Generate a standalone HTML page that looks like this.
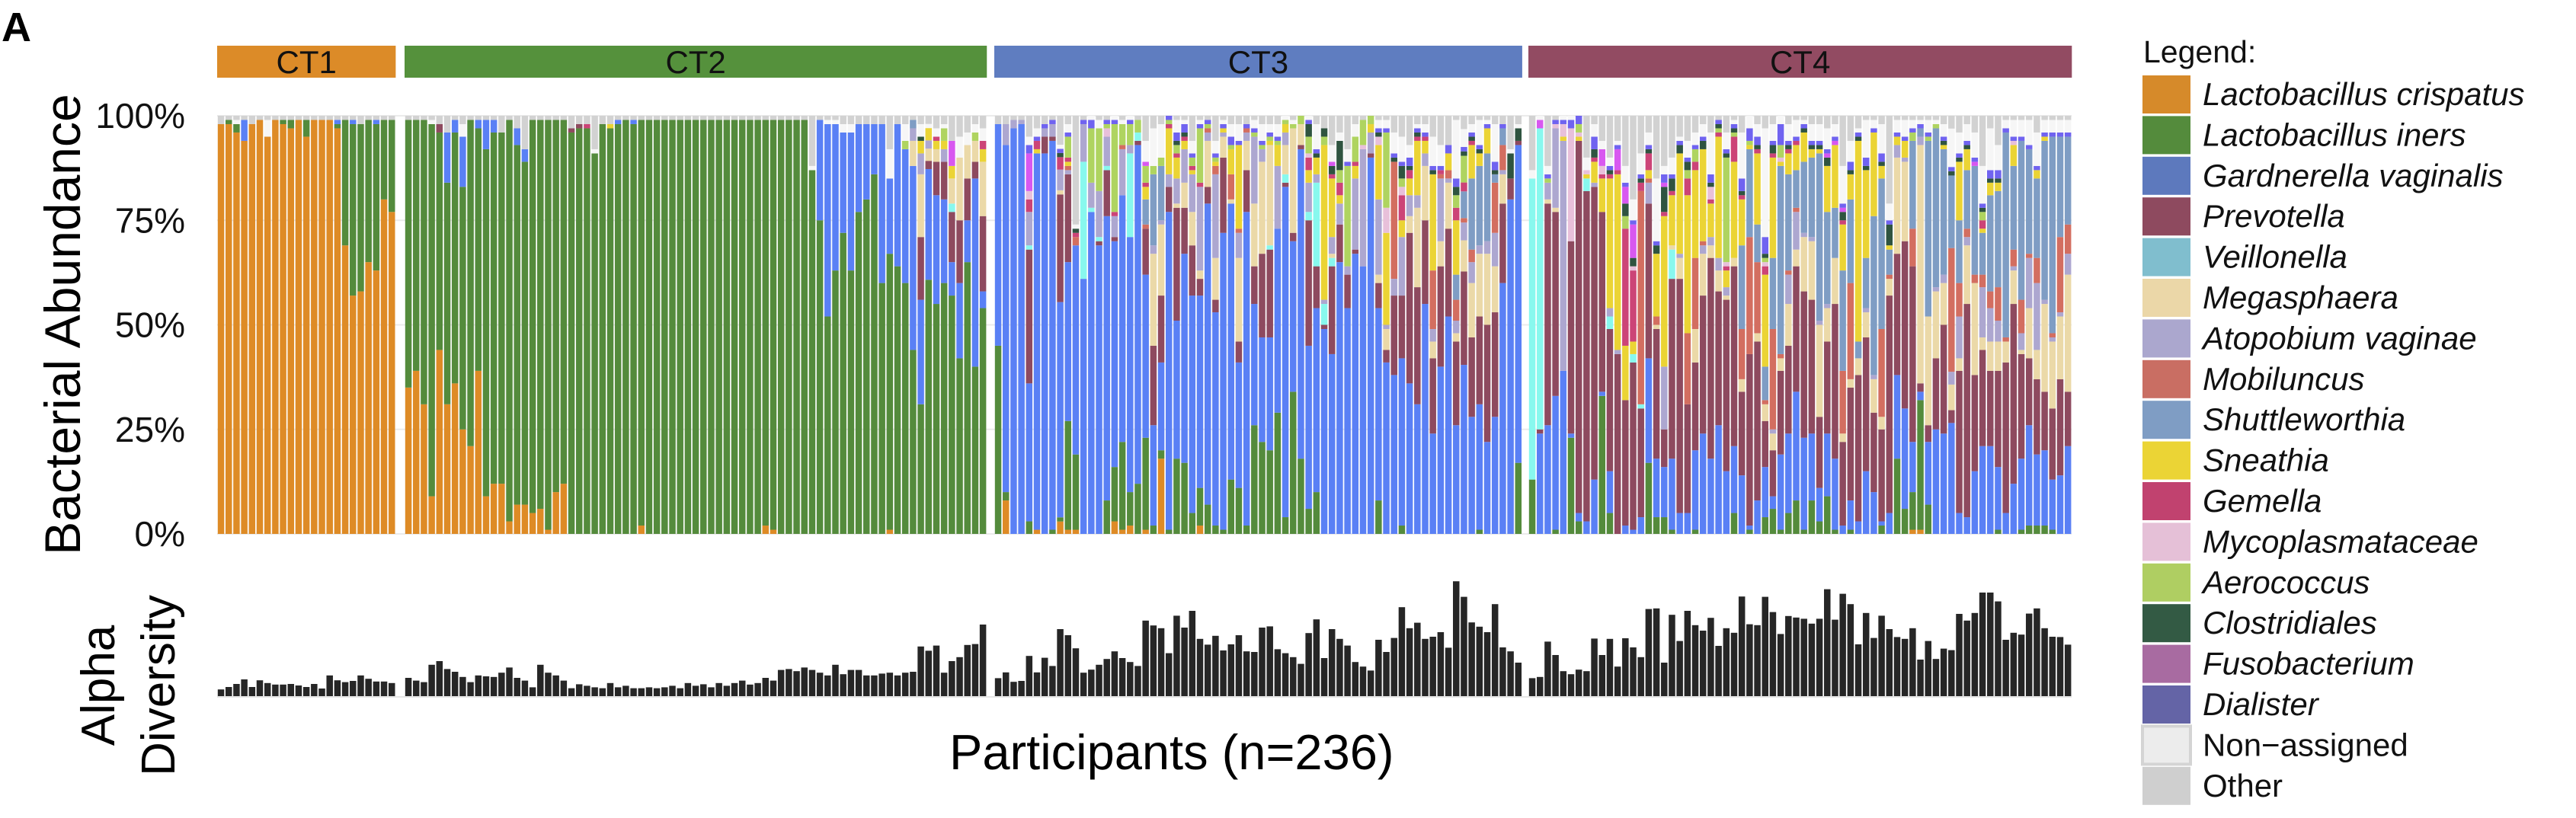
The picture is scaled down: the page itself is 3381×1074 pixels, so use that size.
<!DOCTYPE html>
<html><head><meta charset="utf-8">
<style>
html,body{margin:0;padding:0;background:#fff;}
svg{display:block;font-family:"Liberation Sans",sans-serif;}
</style></head>
<body>
<svg id="fig" width="3381" height="1074" viewBox="0 0 3381 1074" xmlns="http://www.w3.org/2000/svg">
<text x="2" y="54" font-size="54" font-weight="bold">A</text>
<g id="strips"></g>
<g id="grid"></g>
<g id="stack"></g>
<g id="alpha"></g>
<g id="yticks"></g>
<text transform="translate(105,426) rotate(-90)" text-anchor="middle" font-size="66">Bacterial Abundance</text>
<text transform="translate(150,900) rotate(-90)" text-anchor="middle" font-size="62">Alpha</text>
<text transform="translate(229,900) rotate(-90)" text-anchor="middle" font-size="62">Diversity</text>
<text x="1246" y="1010" font-size="65">Participants (n=236)</text>
<g id="legend"></g>
</svg>
<script>
const taxaCodes = ["c","i","g","p","v","m","a","b","s","n","e","y","r","l","f","d","x","o"];
const taxaNames = ["Lactobacillus crispatus","Lactobacillus iners","Gardnerella vaginalis","Prevotella","Veillonella","Megasphaera","Atopobium vaginae","Mobiluncus","Shuttleworthia","Sneathia","Gemella","Mycoplasmataceae","Aerococcus","Clostridiales","Fusobacterium","Dialister","Non\u2212assigned","Other"];
const legendColors = ["#D68A2A","#548B3C","#5D79BD","#8E4A5F","#80BECE","#EBD7A8","#ABA7CE","#C96E63","#7F9DC4","#EBD435","#C1426F","#E5C0D7","#AFCE62","#335A44","#A86BA1","#6464A6","#ECECEC","#CFCFCF"];
const barColors = ["#DE8B26","#548B3C","#5A80F5","#8E4A5F","#88F8EE","#EBD9A8","#ADA7D0","#D36E60","#7F9DC4","#EBD435","#CC4477","#E8C0DA","#AFD460","#2F5440","#D858F0","#7063F0","#F6F6F6","#D2D2D2"];
const clusters = ["CT1","CT2","CT3","CT4"];
const clusterColors = ["#DC8B28","#55913C","#5F7DC0","#924B62"];
const ct1Bars = ["c98 o2","c98 i1 o1","c96 i2 x1 o1","c94 g5 o1","c98 o2","c99 o1","c95 x4 o1","c99 o1","c98 i1 o1","c97 i2 o1","c99 o1","c95 i4 o1","c99 o1","c99 o1","c99 o1","c97 g1 i1 o1","c69 i30 o1","c57 i41 g1 o1","c58 i40 o2","c65 i34 o1","c63 i35 g1 o1","c80 i19 o1","c77 i22 o1"];
const ct2Bars = ["c35 i64 o1","c39 i60 o1","c31 i68 o1","c9 i89 x1 o1","c44 i52 p2 o2","c31 i53 g12 o4","c36 i60 g3 o1","c25 i58 g12 x3 o2","c21 i78 o1","c39 i58 g2 o1","c9 i83 g7 o1","c12 i84 g3 o1","c12 i84 o4","c3 i96 o1","c7 i86 g4 o3","c7 i82 g3 o8","c5 i94 o1","c6 i93 o1","c1 i98 o1","c10 i89 o1","c12 i87 o1","i96 p1 o3","i97 p1 o2","i97 e1 o2","i91 x1 o8","i98 o2","i97 n1 o2","i98 g1 o1","i99 o1","i98 g1 o1","c2 i97 o1","i99 o1","i99 o1","i99 o1","i99 o1","i99 o1","i99 o1","i99 o1","i99 o1","i99 o1","i99 o1","i99 o1","i99 o1","i99 o1","i99 o1","i99 o1","c2 i97 o1","c1 i98 o1","i99 o1","i99 o1","i99 o1","i99 o1","i87 x1 o12","i75 g24 o1","i52 g46 x1 o1","i63 g35 x1 o1","i72 g24 x2 o2","i63 g33 x2 o2","i77 g21 o2","i80 g18 o2","i86 g12 o2","i60 g38 o2","c1 i66 g18 x7 o8","i64 g34 o2","i60 g32 r2 x4 o2","i44 g44 m6 a3 s2 o1","i31 g25 p15 m15 a5 n3 l1 x3 o2","i62 g27 p2 m3 a2 n3 x1 o2","i55 g26 p8 m3 n2 e1 x2 o3","i60 g20 p9 a3 n2 r3 x1 o2","i57 g8 p12 v2 m6 f6 n3 o6","i42 g18 p15 m15 x5 o5","i65 g10 p10 m8 x3 o4","i40 g45 p4 m5 r2 x2 o2","i54 g4 p18 m13 n3 e2 x3 o3"];
const ct3Bars = ["i45 g53 o2","c8 i2 g83 a5 o2","g97 a2 o1","g98 a1 o1","i3 g33 p32 v1 a8 e3 y2 f9 d2 x2 o5","c1 g90 n1 e2 d1 x2 o3","g91 p4 a2 d1 o2","i1 g93 p1 a3 d1 o1","c3 i1 g52 p26 m1 a5 e3 l1 d1 x1 o7","c1 i26 g38 p21 a1 b1 n1 e1 r5 d1 x2 o2","c1 i18 g50 b2 e1 l1 x1 o26","g61 v28 a9 d1 o1","g77 v1 a6 r13 d2 x1","g69 p1 v1 a11 r15 x2 o1","i8 g68 p11 v1 a7 y2 r1 d1 o1","c3 i13 g54 p1 a5 e1 r21 d1 x1","c1 i21 g59 a11 b1 r5 x1 o1","c2 i8 g61 v20 a2 r5 d1 x1","i12 g81 p1 v2 r3 o1","c1 i22 g39 p11 b1 s6 n3 e1 r4 f1 x5 o6","i2 g24 p19 m22 a2 s17 r2 x9 o3","c18 i2 g21 p16 m17 a1 s13 r2 x8 o2","i1 g76 p6 a3 n11 e1 r1 d1","i18 g33 p27 m1 a6 n5 e1 r2 l1 d2 x3 o1","i17 g50 p11 m6 a8 n2 e1 l1 d2 x1 o1","i5 g52 p12 m8 a9 n1 e1 r2 d1 x3 o6","c2 i9 g46 p4 m2 a20 e1 r13 d1 x1 o1","i7 g72 p4 m11 a2 b1 r1 d1 o1","i2 g51 p3 m10 a20 b2 n1 r1 d1 x3 o6","i1 g71 p18 m5 a1 n1 d1 o1 x1","i13 g66 m1 b6 n6 r1 d2 x3 o2","i11 g30 p5 m20 a6 b1 n20 d1 x4 o2","i2 g75 p10 m7 a2 b1 d1 o2","i26 g29 p9 m15 a16 r1 d1 x2 o1","i22 g25 p20 m22 a3 r1 d1 x4 o2","i20 g27 p21 v1 m24 n1 r1 d1 x2 o2","i29 g44 a15 n5 r1 d1 x3 o2","i4 g79 p1 v2 m7 a3 n2 r1 x1","i34 g36 p2 m25 r1 x1 o1","i18 g74 p1 m5 r2","i6 g39 p30 v2 a7 n3 e3 y1 r4 l3 d1 x1","i10 g44 p10 v20 a2 n4 l1 d1 x6 o2","g49 p1 v5 a1 n37 r2 l2 o3","g43 p21 v2 m1 a4 n14 e1 l2 f1 x4 o7","g65 p9 a5 n2 e3 r3 l7 x2 o4","g54 p8 a2 r24 d1 x3 o8","g67 p1 a17 e1 n3 r6 x3 o2","g64 a28 y1 r6 o1","g90 p1 a5 n2 r2","i8 g46 p6 m2 a18 n13 y2 l1 d1 x2 o1","g41 p3 m5 a1 n22 y6 r18 d1 x2 o1","g38 p19 a4 b28 l1 d1 x5 o4","i2 g40 p15 a14 n4 e6 y2 r2 l3 d1 x6 o5","g36 p36 m4 a5 n4 e2 l1 d2 x3 o7","g31 p28 m19 a3 n13 e1 l1 d1 x1 o2","g55 p20 m13 a3 n3 e1 d1 x2 o2","g24 p18 m4 a3 b14 n23 l1 d1 x7 o5","g40 p24 m6 a15 b1 e1 d1 x5 o7","g52 p21 m11 a1 b2 n4 d2 o7","g26 p20 m2 a3 b5 s6 n13 e3 r3 l2 d2 x14 o1","g38 p21 m7 a4 b1 s6 e2 r6 l1 d1 x4 o3","g28 p19 m13 a5 b3 s17 n8 e1 l1 d1 x2 o2","i1 g30 p21 m15 a2 s19 n3 l1 d1 x6 o1","g22 p28 m17 a3 s21 n6 d1 x1 o1","g28 p25 m11 a8 b12 s2 l1 d2 x9 o2","g60 p19 m7 a1 b6 s4 d1 o2","g80 p5 l6 x1 o8","i17 g76 p1 l3 x1 o2"];
const ct4Bars = ["i13 v72 x2 o13","g24 p1 v72 f2 x1","g26 p53 m1 a4 r1 d1 x2 o12","i1 g32 p44 m1 a19 y1 d1 o1","g39 a55 n1 y3 d1 x1","i23 g1 p46 y27 d2 x1","i3 g2 p89 n1 y1 r2 d2","g3 p79 v3 n1 y1 x3 o10","g13 p70 a1 n5 e1 l2 d3 x3 o2","i33 g1 p43 n8 e1 y2 f4 x2 o6","i5 g10 p34 v3 a2 n31 e1 l1 d1 x2 o10","p43 a1 n42 e1 f5 d1 x1 o6","g2 p30 n13 e28 r3 l3 f4 d1 x4 o12","g1 p40 v2 n3 e17 y1 l2 f8 d1 x5 o20","g4 p26 v1 b51 e2 l1 d1 x5 o9","i17 g25 p37 a5 b1 n2 e4 l1 d1 x3 o4","i4 g14 p31 m1 b2 n15 l2 d1 x15 o15","i4 g12 p9 a15 n36 e1 l6 f1 d2 x2 o12","i1 g17 p43 v7 m1 n12 e1 l3 d1 x4 o10","g5 p56 m5 a1 n24 l2 d1 x1 o5","g5 p26 b17 n33 e4 r2 l2 d1 x4 o6","i1 g19 p21 m8 b17 n21 e2 r3 d1 x3 o4","g24 p33 m10 a2 b1 n22 l2 d1 x3 o2","g18 p48 m3 a2 n8 e1 y3 l1 d2 x10 o4","g26 p32 m5 a3 n29 e1 r1 l1 d1 o1","g15 p41 m1 a2 n4 e1 y1 r25 l1 d1 x4 o4","i5 g16 p43 m2 n23 e6 r1 l1 d1 x1 o1","g14 p20 m3 b12 s20 n11 e1 l1 d3 x11 o4","i1 g1 p41 b28 s21 n1 r1 d3 x3","g8 p38 m2 b17 s9 n17 e1 l1 d2 x3 o2","i4 g12 p11 m4 b1 s8 n22 e2 y1 r1 l1 d4 x26 o3","i6 g3 p11 m4 a1 b24 s17 n24 e1 l2 d1 x4 o2","i1 g18 p20 m3 b1 s45 n1 y1 r3 d5 x2","i5 g19 p21 m10 a7 b1 s23 n5 e1 l1 d1 x4 o2","i8 g26 p30 m4 a9 b1 s9 n6 e1 d1 x4 o1","i1 g22 p35 m13 a1 s17 n7 l1 d1 x1 o1","i8 g16 p32 m14 a1 s19 n2 l1 d1 x4 o2","i3 g8 p17 m22 a1 s40 n1 l1 d1 x4 o2","i9 g15 p22 m8 a1 s22 n11 l2 f1 d1 x5 o3","i1 g17 p37 m11 s12 n15 f1 d1 x3 o2","g2 p20 m2 b15 s24 n11 e1 l2 f1 d1 x9 o12","i1 g7 p27 m2 b23 s20 n6 l1 d2 x5 o6","g3 p35 m4 s4 n48 l1 d1 x1 o3","g15 p32 m6 a1 s12 n21 l1 d2 x9 o1","g10 p19 m8 a1 s38 n20 d1 x2 o1","i2 g1 p22 m3 b21 s36 n3 l1 d2 x7 o2","g5 p52 m4 b1 s6 n1 l5 d1 x4 o21","i18 g20 p29 m23 a3 n2 d1 x3 o1","i6 g24 p40 m19 a1 n4 d1 x4 o1","c1 i9 g12 p42 b9 s21 r2 d1 x2 o1","c1 i31 g2 p2 m57 a2 s2 d1 x1 o1","i7 g15 p4 m26 s42 r1 d1 x3 o1","g25 p17 m16 a1 s38 r1 x1 o1","g24 p26 m10 a2 s30 n1 l1 d1 x3 o2","g26 p3 m6 a3 b29 s17 l1 d1 x9 o3","g5 p34 m3 a10 b8 s15 n14 l1 d1 x5 o4","g4 p51 m14 a2 b2 s14 n5 l1 d1 x4 o2","g15 p23 m22 b2 s26 f1 d1 x6 o4","g21 p23 m3 a12 b3 s10 n1 e2 r2 l1 d1 x9 o12","g21 p18 m7 a8 b4 s23 n3 l1 d2 x10 o3","i1 g15 p23 m7 a5 b8 s23 n2 l1 d2 x6 o7","g5 p36 m5 b1 s49 d1 x2 o1","g12 p43 m8 a1 b4 s20 n5 y1 d1 x4 o1","i1 g17 p25 m1 a4 b8 s38 d1 x4 o1","i2 g24 p16 m12 a12 b1 s25 d1 x6 o1","i2 g17 p18 m7 a16 b6 s19 n2 d1 x8 o4","i2 g18 p14 m21 a1 s38 n1 d1 x3 o1","i1 g12 p17 m16 a1 b1 s47 d1 x3 o1","g14 p23 m15 a1 b18 s24 d1 x3 o1","g21 p13 m28 a5 b7 s21 d1 x3 o1"];
const ct1Alpha = [0.22,0.30,0.40,0.55,0.30,0.52,0.43,0.38,0.38,0.40,0.35,0.30,0.40,0.25,0.68,0.52,0.46,0.50,0.68,0.57,0.48,0.48,0.43];
const ct2Alpha = [0.60,0.51,0.46,1.03,1.15,0.89,0.80,0.63,0.46,0.68,0.65,0.63,0.77,0.94,0.60,0.51,0.29,1.03,0.77,0.68,0.51,0.26,0.39,0.34,0.29,0.26,0.43,0.29,0.34,0.26,0.26,0.29,0.26,0.29,0.34,0.26,0.43,0.34,0.39,0.29,0.43,0.34,0.43,0.51,0.38,0.43,0.60,0.51,0.86,0.89,0.82,0.94,0.86,0.77,0.68,1.03,0.72,0.86,0.86,0.68,0.68,0.74,0.77,0.68,0.77,0.80,1.63,1.49,1.66,0.77,1.15,1.28,1.68,1.71,2.35];
const ct3Alpha = [0.59,0.78,0.47,0.50,1.32,0.78,1.26,0.99,2.20,2.00,1.57,0.77,0.87,1.03,1.22,1.47,1.25,1.12,0.99,2.48,2.32,2.23,1.41,2.64,2.25,2.80,1.88,1.69,1.98,1.50,1.70,2.00,1.47,1.45,2.25,2.29,1.54,1.41,1.28,1.06,2.07,2.52,1.25,2.20,1.88,1.66,1.12,0.97,0.84,1.85,1.45,1.91,2.92,2.23,2.41,1.88,1.95,2.10,1.59,3.77,3.26,2.42,2.28,2.10,3.02,1.60,1.47,1.10];
const ct4Alpha = [0.59,0.63,1.79,1.35,0.82,0.72,0.87,0.82,1.89,1.35,1.88,0.97,1.90,1.60,1.28,2.86,2.88,1.10,2.67,1.81,2.80,2.33,2.15,2.57,1.65,2.23,2.08,3.27,2.36,2.33,3.26,2.76,2.04,2.63,2.58,2.54,2.38,2.54,3.51,2.51,3.36,3.02,1.70,2.73,1.91,2.64,2.20,1.94,1.88,2.23,1.20,1.81,1.22,1.56,1.51,2.70,2.48,2.73,3.40,3.40,3.11,1.85,2.08,2.02,2.71,2.88,2.23,1.95,1.94,1.69];
const yTickLabels = ["0%","25%","50%","75%","100%"];
const yTickValues = [0,25,50,75,100];

const NS = "http://www.w3.org/2000/svg";
function mk(tag, attrs, parent){ const e=document.createElementNS(NS,tag); for(const k in attrs) e.setAttribute(k,attrs[k]); parent.appendChild(e); return e; }
const plotY0 = 701, plotY1 = 152;
function yPct(v){ return plotY0 - (v/100)*(plotY0-plotY1); }
const alphaBase = 914, alphaPx = 40;
function yAlpha(v){ return alphaBase - v*alphaPx; }
const groupStart = [285,531,1305,2006];
const pitch = 10.19, barW = 8.5;
function xBar(g,k){ return groupStart[g] + k*pitch + 0.8; }
const groupBars = [ct1Bars,ct2Bars,ct3Bars,ct4Bars];
const groupAlpha = [ct1Alpha,ct2Alpha,ct3Alpha,ct4Alpha];

const strips = document.getElementById('strips');
clusters.forEach((name,g)=>{
  const x0 = groupStart[g], w = groupBars[g].length*pitch;
  const r = mk('rect',{x:x0,y:60,width:w,height:42,fill:clusterColors[g]},strips);
  
  
  const t = mk('text',{x:x0+w/2,y:96,'text-anchor':'middle','font-size':42,fill:'#111'},strips);
  t.textContent = name;
  
  
});

const grid = document.getElementById('grid');
const yt = document.getElementById('yticks');
yTickValues.forEach((v,i)=>{
  const l = mk('line',{x1:285,x2:2719,y1:yPct(v),y2:yPct(v),stroke:'#ebebeb','stroke-width':2},grid);
  
  
  const t = mk('text',{x:243,y:yPct(v)+16,'text-anchor':'end','font-size':46,fill:'#111'},yt);
  t.textContent = yTickLabels[i];
  
  
});
const al = mk('line',{x1:285,x2:2719,y1:alphaBase+1,y2:alphaBase+1,stroke:'#e6e6e6','stroke-width':2},grid);



const stack = document.getElementById('stack');
const alpha = document.getElementById('alpha');
groupBars.forEach((bars,g)=>{
  bars.forEach((s,k)=>{
    const vals = new Array(taxaCodes.length).fill(0);
    s.split(' ').forEach(tok=>{ const idx=taxaCodes.indexOf(tok[0]); if(idx>=0) vals[idx]+=parseFloat(tok.slice(1)); });
    const tot = vals.reduce((a,b)=>a+b,0);
    let cum = 0;
    const x = xBar(g,k);
    vals.forEach((v,t)=>{
      if(v<=0) return;
      const p0 = cum/tot*100, p1 = (cum+v)/tot*100;
      cum += v;
      const r = mk('rect',{x:x,y:yPct(p1),width:barW,height:yPct(p0)-yPct(p1),fill:barColors[t]},stack);
      
      
    });
    const av = groupAlpha[g][k];
    const a = mk('rect',{x:x,y:yAlpha(av),width:barW,height:av*alphaPx,fill:'#262626'},alpha);
    
    
  });
});

const leg = document.getElementById('legend');
const lt = mk('text',{x:2813,y:82,'font-size':41,fill:'#111'},leg);
lt.textContent = 'Legend:';


taxaNames.forEach((n,i)=>{
  const y = 99 + i*53.4;
  const sw = mk('rect',{x:2812,y:y,width:63,height:50,fill:legendColors[i]},leg);
  if(i===16){ sw.setAttribute('stroke','#d4d4d4'); sw.setAttribute('stroke-width','4'); }
  
  
  const t = mk('text',{x:2891,y:y+39,'font-size':42,fill:'#111','font-style': i<16?'italic':'normal'},leg);
  t.textContent = n;
  
  
});
</script>
</body></html>
